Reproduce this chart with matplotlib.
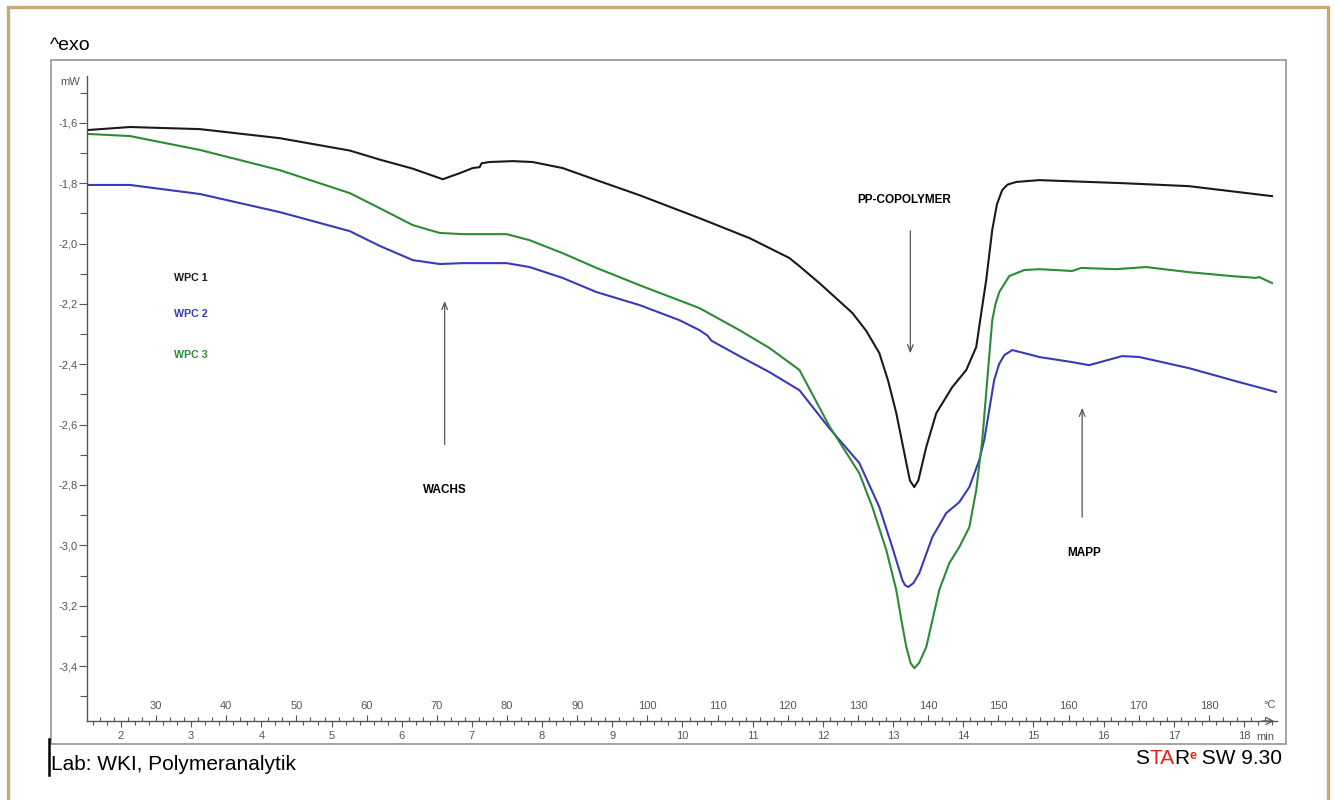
import numpy as np
import matplotlib.pyplot as plt
from matplotlib.patches import Rectangle
from matplotlib.lines import Line2D
from matplotlib.ticker import MultipleLocator, FixedLocator, FuncFormatter

plt.rcParams['font.family'] = ['Liberation Sans', 'DejaVu Sans']

# --- DSC curves: time (min) / heat flow (mW) ---
wpc1_t = [1.530, 2.128, 3.125, 4.263, 5.260, 5.687, 6.157, 6.584, 6.826, 7.011, 7.110, 7.139,
          7.253, 7.580, 7.865, 8.292, 8.776, 9.388, 10.242, 10.954, 11.523, 11.666, 11.950,
          12.420, 12.620, 12.804, 12.930, 13.046, 13.189, 13.240, 13.302, 13.360, 13.473,
          13.616, 13.843, 14.043, 14.185, 14.250, 14.327, 14.413, 14.480, 14.555, 14.630,
          14.755, 15.082, 16.263, 17.217, 18.399]
wpc1_mw = [-1.624, -1.614, -1.621, -1.651, -1.692, -1.722, -1.752, -1.787, -1.767, -1.750, -1.747, -1.734,
           -1.730, -1.727, -1.730, -1.750, -1.790, -1.840, -1.916, -1.982, -2.048, -2.075, -2.131,
           -2.230, -2.290, -2.363, -2.455, -2.562, -2.727, -2.785, -2.807, -2.785, -2.674,
           -2.562, -2.476, -2.419, -2.343, -2.240, -2.121, -1.955, -1.870, -1.823, -1.805,
           -1.796, -1.790, -1.800, -1.810, -1.843]

wpc2_t = [1.530, 2.128, 3.125, 4.263, 5.260, 5.687, 6.157, 6.541, 6.869, 7.495, 7.822, 8.292,
          8.776, 9.388, 9.957, 10.242, 10.356, 10.413, 10.811, 11.238, 11.666, 12.092, 12.519,
          12.804, 12.989, 13.132, 13.170, 13.217, 13.290, 13.374, 13.559, 13.758, 13.943,
          14.086, 14.228, 14.299, 14.441, 14.510, 14.584, 14.698, 14.868, 15.082, 15.552,
          15.794, 16.263, 16.506, 17.217, 17.929, 18.456]
wpc2_mw = [-1.806, -1.806, -1.836, -1.896, -1.959, -2.008, -2.055, -2.068, -2.065, -2.065, -2.078, -2.114,
           -2.161, -2.204, -2.254, -2.287, -2.305, -2.322, -2.373, -2.426, -2.486, -2.612, -2.727,
           -2.873, -3.006, -3.115, -3.132, -3.138, -3.125, -3.092, -2.973, -2.893, -2.857,
           -2.807, -2.718, -2.651, -2.452, -2.400, -2.370, -2.353, -2.363, -2.376, -2.393,
           -2.403, -2.373, -2.376, -2.413, -2.459, -2.492]

wpc3_t = [1.530, 2.128, 3.125, 4.263, 5.260, 5.687, 6.157, 6.541, 6.869, 7.495, 7.822, 8.292,
          8.776, 9.388, 10.242, 10.811, 11.238, 11.666, 12.092, 12.519, 12.705, 12.904, 13.046,
          13.120, 13.189, 13.250, 13.302, 13.370, 13.473, 13.658, 13.801, 13.943, 14.086,
          14.185, 14.271, 14.342, 14.413, 14.460, 14.513, 14.655, 14.868, 15.082, 15.552,
          15.680, 16.178, 16.605, 17.217, 17.830, 18.171, 18.214, 18.399]
wpc3_mw = [-1.637, -1.644, -1.690, -1.757, -1.833, -1.883, -1.939, -1.965, -1.969, -1.969, -1.989, -2.032,
           -2.081, -2.138, -2.214, -2.287, -2.346, -2.419, -2.605, -2.761, -2.873, -3.016, -3.148,
           -3.250, -3.337, -3.390, -3.407, -3.390, -3.337, -3.148, -3.059, -3.006, -2.940,
           -2.817, -2.651, -2.452, -2.254, -2.200, -2.161, -2.108, -2.088, -2.085, -2.091,
           -2.081, -2.085, -2.078, -2.095, -2.108, -2.114, -2.111, -2.131]

series_names = ['WPC 1', 'WPC 2', 'WPC 3']
series_colors = ['#1a1a1a', '#3a3ab8', '#2a8c36']

time_ticks = list(range(2, 19))
temp_ticks = list(range(30, 190, 10))
y_ticks = [-1.6, -1.8, -2.0, -2.2, -2.4, -2.6, -2.8, -3.0, -3.2, -3.4]

# heating rate 10 K/min, 30 C at 2.5 min
def to_temp(t):
    return 10 * np.asarray(t) + 5

def to_time(T):
    return (np.asarray(T) - 5) / 10

grey = '#555555'

fig = plt.figure(figsize=(13.35, 8), dpi=100)
ax = fig.add_axes([87 / 1335, 1 - 721 / 800, 1190 / 1335, 645 / 800])

for t, mw, c in zip([wpc1_t, wpc2_t, wpc3_t], [wpc1_mw, wpc2_mw, wpc3_mw], series_colors):
    ax.plot(t, mw, color=c, lw=1.5, solid_joinstyle='round')

ax.set_xlim(1.516, 18.47)
ax.set_ylim(-3.582, -1.445)

# --- axes styling ---
for s in ['top', 'right']:
    ax.spines[s].set_visible(False)
for s in ['left', 'bottom']:
    ax.spines[s].set_color(grey)
    ax.spines[s].set_linewidth(1.0)

ax.yaxis.set_major_locator(FixedLocator(y_ticks))
ax.yaxis.set_minor_locator(MultipleLocator(0.1))
ax.yaxis.set_major_formatter(FuncFormatter(lambda v, p: f"{v:.1f}".replace('.', ',')))
ax.tick_params(axis='y', which='major', length=6, width=0.8, color=grey, labelsize=8,
               labelcolor=grey, pad=1)
ax.tick_params(axis='y', which='minor', length=5, width=0.8, color=grey)

ax.xaxis.set_major_locator(FixedLocator(time_ticks))
ax.xaxis.set_minor_locator(MultipleLocator(0.2))
ax.tick_params(axis='x', which='major', length=4, width=0.8, color=grey, labelsize=8,
               labelcolor=grey, pad=3)
ax.tick_params(axis='x', which='minor', length=3, width=0.8, color=grey)

sec = ax.secondary_xaxis(0.0, functions=(to_temp, to_time))
sec.set_alignment('top')
sec.spines['top'].set_visible(False)
sec.xaxis.set_major_locator(FixedLocator(temp_ticks))
sec.xaxis.set_minor_locator(MultipleLocator(2))
sec.tick_params(axis='x', which='major', direction='out', length=4, width=0.8, color=grey,
                labelsize=8, labelcolor=grey, pad=3)
sec.tick_params(axis='x', which='minor', direction='out', length=3, width=0.8, color=grey)

ax.annotate('', xy=(1.0, 0), xytext=(0.985, 0), xycoords='axes fraction',
            arrowprops=dict(arrowstyle='->, head_length=0.5, head_width=0.25', color=grey, lw=0.9),
            annotation_clip=False)
ax.text(0.994, 0.025, '°C', transform=ax.transAxes, ha='center', va='center', fontsize=8, color=grey)
ax.text(0.99, -0.025, 'min', transform=ax.transAxes, ha='center', va='center', fontsize=8, color=grey)
fig.text(70 / 1335, 1 - 82 / 800, 'mW', ha='center', va='center', fontsize=8, color=grey)

# --- curve labels and peak annotations ---
for name, c, y in zip(series_names, series_colors, [-2.114, -2.234, -2.370]):
    ax.text(2.755, y, name, color=c, fontsize=7.7, fontweight='bold', va='center', ha='left')

ax.text(13.161, -1.856, 'PP-COPOLYMER', fontsize=8.5, fontweight='bold', ha='center', va='center')
ax.text(6.612, -2.817, 'WACHS', fontsize=8.5, fontweight='bold', ha='center', va='center')
ax.text(15.723, -3.026, 'MAPP', fontsize=8.5, fontweight='bold', ha='center', va='center')

arrow_style = dict(arrowstyle='->, head_length=0.5, head_width=0.2', color=grey, lw=0.9)
ax.annotate('', xy=(6.612, -2.181), xytext=(6.612, -2.675), arrowprops=arrow_style)
ax.annotate('', xy=(13.246, -2.373), xytext=(13.246, -1.949), arrowprops=arrow_style)
ax.annotate('', xy=(15.694, -2.535), xytext=(15.694, -2.916), arrowprops=arrow_style)

# --- page furniture ---
fig.text(50 / 1335, 1 - 45 / 800, '^exo', fontsize=14, ha='left', va='center')
fig.text(51 / 1335, 1 - 770 / 800, 'Lab: WKI, Polymeranalytik', fontsize=15, ha='left', va='baseline')
fig.add_artist(Line2D([49 / 1335, 49 / 1335], [1 - 739 / 800, 1 - 775 / 800], color='black', lw=1.8))

s_txt = fig.text(1135 / 1335, 1 - 768 / 800, 'S', fontsize=15, ha='left', va='bottom')
ta_txt = ax.annotate('TA', xy=(1, 0), xycoords=s_txt, fontsize=15, color='#e8231f', va='bottom',
                     annotation_clip=False)
r_txt = ax.annotate('R', xy=(1, 0), xycoords=ta_txt, fontsize=15, va='bottom', annotation_clip=False)
e_txt = ax.annotate('e', xy=(1, 0.93), xycoords=r_txt, fontsize=9, fontweight='bold',
                    color='#e8231f', va='top', annotation_clip=False)
ax.annotate(' SW 9.30', xy=(1, 0), xycoords=(e_txt, r_txt), fontsize=15, va='bottom',
            annotation_clip=False)

fig.add_artist(Rectangle((51 / 1335, 1 - 744 / 800), 1235 / 1335, 684 / 800, fill=False,
                         edgecolor='#8c8c8c', lw=1.1, transform=fig.transFigure))
fig.add_artist(Rectangle((8 / 1335, -0.05), 1320 / 1335, 1.05 - 7 / 800, fill=False,
                         edgecolor='#c4aa74', lw=2.4, transform=fig.transFigure))

fig.savefig('out.png', dpi=100)
